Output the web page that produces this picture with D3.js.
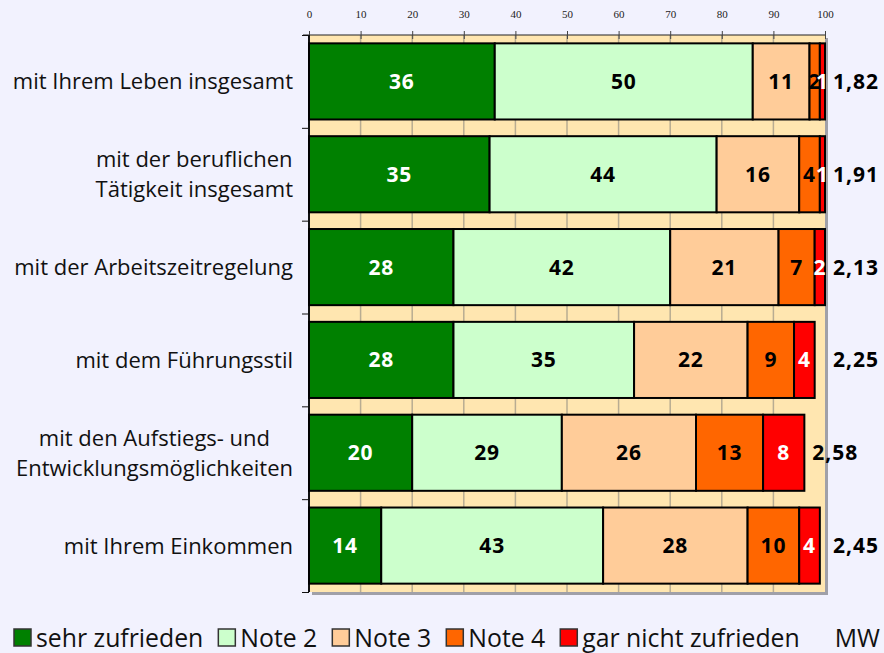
<!DOCTYPE html>
<html>
<head>
<meta charset="utf-8">
<script src="https://cdn.jsdelivr.net/npm/d3@7"></script>
<style>
  body { margin: 0; background: #f2f2fe; }
  svg { display: block; font-family: "Open Sans", sans-serif; }
</style>
</head>
<body>
<svg id="chart" width="884" height="653"></svg>
<script>
const categories = [
  ["mit Ihrem Leben insgesamt"],
  ["mit der beruflichen", "Tätigkeit insgesamt"],
  ["mit der Arbeitszeitregelung"],
  ["mit dem Führungsstil"],
  ["mit den Aufstiegs- und", "Entwicklungsmöglichkeiten"],
  ["mit Ihrem Einkommen"],
];
const seriesNames = ["sehr zufrieden", "Note 2", "Note 3", "Note 4", "gar nicht zufrieden"];
const sehrZufrieden = [36, 35, 28, 28, 20, 14];
const note2 = [50, 44, 42, 35, 29, 43];
const note3 = [11, 16, 21, 22, 26, 28];
const note4 = [2, 4, 7, 9, 13, 10];
const garNicht = [1, 1, 2, 4, 8, 4];
const mw = ["1,82", "1,91", "2,13", "2,25", "2,58", "2,45"];
const xTicks = [0, 10, 20, 30, 40, 50, 60, 70, 80, 90, 100];

const colors = ["#008000", "#ccffcc", "#ffcc99", "#ff6600", "#ff0000"];
const labelColors = ["#fff", "#000", "#000", "#000", "#fff"];

const series = [sehrZufrieden, note2, note3, note4, garNicht];
const rows = categories.map((c, i) => {
  const r = { id: i };
  seriesNames.forEach((s, j) => (r[s] = series[j][i]));
  return r;
});
const stacked = d3.stack().keys(seriesNames)(rows);

const svg = d3.select("#chart");
const pLeft = 309, pRight = 825, pTop = 35, pBottom = 592;

const x = d3.scaleLinear().domain([0, 100]).range([pLeft, pRight]);
const y = d3.scaleBand().domain(d3.range(categories.length)).range([pTop, pBottom])
  .paddingInner(0.18).paddingOuter(0.09);
const yEdge = d3.scaleLinear().domain([0, categories.length]).range([pTop, pBottom]);

// plot area with shadow
svg.append("rect").attr("x", pLeft + 3).attr("y", pTop + 3)
  .attr("width", pRight - pLeft).attr("height", pBottom - pTop).attr("fill", "#a0a0a8");
svg.append("rect").attr("x", pLeft).attr("y", pTop)
  .attr("width", pRight - pLeft).attr("height", pBottom - pTop).attr("fill", "#ffe6b0");

// grid
svg.append("g").selectAll("line").data(xTicks.slice(1, -1)).join("line")
  .attr("x1", d => x(d)).attr("x2", d => x(d))
  .attr("y1", pTop).attr("y2", pBottom)
  .attr("stroke", "#b8ac92").attr("stroke-width", 1.5);

// top axis
const gx = svg.append("g").attr("transform", `translate(0,${pTop})`)
  .call(d3.axisTop(x).tickValues(xTicks).tickSize(4).tickPadding(13).tickSizeOuter(0));
gx.select(".domain").attr("stroke", "#222").attr("d", `M${pLeft - 6},0H${pRight}`);
gx.selectAll(".tick line").attr("stroke", "#444").attr("y2", -4).attr("y1", 4);
gx.selectAll(".tick text").attr("font-family", "'Liberation Serif', serif")
  .attr("font-size", 11).attr("fill", "#222");

// left axis
const gy = svg.append("g").attr("transform", `translate(${pLeft},0)`)
  .call(d3.axisLeft(yEdge).tickValues(d3.range(categories.length + 1)).tickSize(7).tickFormat(""));
gy.select(".domain").attr("stroke", "#111").attr("stroke-width", 2).attr("d", `M0,${pTop}V${pBottom}`);
gy.selectAll(".tick line").attr("stroke", "#111");

// bars
stacked.forEach((s, j) => {
  svg.append("g").selectAll("rect").data(s).join("rect")
    .attr("x", d => x(d[0]))
    .attr("width", d => x(d[1]) - x(d[0]))
    .attr("y", d => y(d.data.id))
    .attr("height", y.bandwidth())
    .attr("fill", colors[j])
    .attr("stroke", "#000").attr("stroke-width", 2);
});

stacked.forEach((s, j) => {
  svg.append("g").selectAll("text").data(s).join("text")
    .attr("x", d => x((d[0] + d[1]) / 2))
    .attr("y", d => y(d.data.id) + y.bandwidth() / 2)
    .attr("dy", "0.36em")
    .attr("text-anchor", "middle")
    .attr("font-size", 21).attr("font-weight", "bold").attr("letter-spacing", 0.8)
    .attr("fill", labelColors[j])
    .text(d => d[1] - d[0]);
});

// MW labels
const totals = rows.map((r, i) => d3.sum(series, s => s[i]));
svg.append("g").selectAll("text").data(mw).join("text")
  .attr("x", (d, i) => (totals[i] >= 98 ? x(100) : x(totals[i])) + 8)
  .attr("y", (d, i) => y(i) + y.bandwidth() / 2)
  .attr("dy", "0.36em")
  .attr("font-size", 21).attr("font-weight", "bold").attr("letter-spacing", 1)
  .text(d => d);

// category labels
categories.forEach((lines, i) => {
  const cy = y(i) + y.bandwidth() / 2;
  const lh = 30;
  const t = svg.append("g");
  const texts = lines.map((l, k) => t.append("text")
    .attr("y", cy + (k - (lines.length - 1) / 2) * lh)
    .attr("dy", "0.36em")
    .attr("font-size", 22)
    .attr("fill", "#111")
    .text(l));
  const wMax = d3.max(texts, tx => tx.node().getComputedTextLength());
  texts.forEach(tx => tx.attr("x", 293 - wMax / 2).attr("text-anchor", "middle"));
});

// legend
const lg = svg.append("g");
let lx = 14;
seriesNames.forEach((s, j) => {
  lg.append("rect").attr("x", lx).attr("y", 629).attr("width", 17).attr("height", 17)
    .attr("fill", colors[j]).attr("stroke", "#333").attr("stroke-width", 1.5);
  const tx = lg.append("text").attr("x", lx + 22).attr("y", 647)
    .attr("font-size", 24.8).attr("fill", "#111").text(s);
  lx += 22 + tx.node().getComputedTextLength() + 15;
});
lg.append("text").attr("x", 880).attr("y", 647).attr("text-anchor", "end")
  .attr("font-size", 24.8).attr("fill", "#111").text("MW");
</script>
</body>
</html>
